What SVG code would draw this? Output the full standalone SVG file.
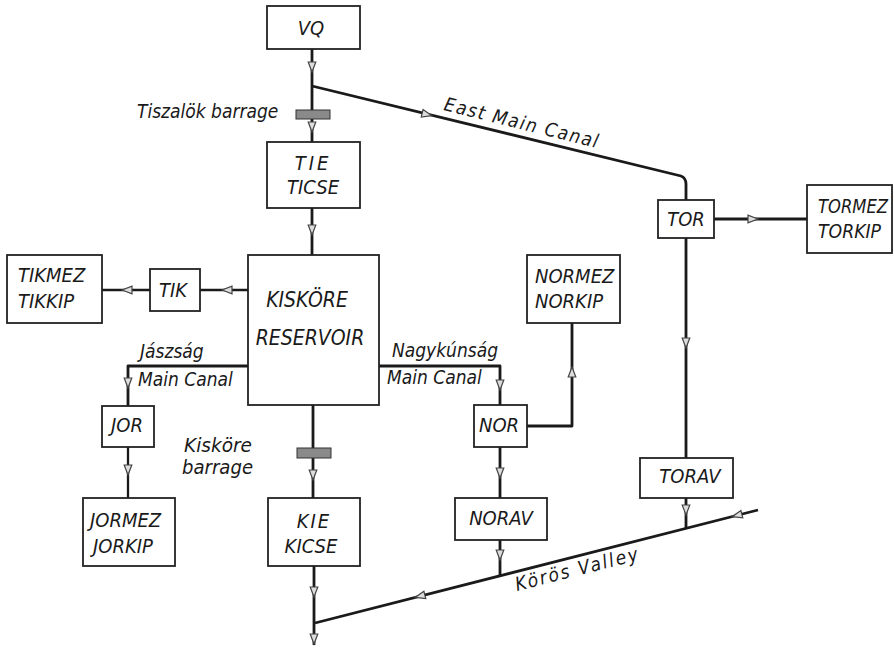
<svg xmlns="http://www.w3.org/2000/svg" xmlns:xlink="http://www.w3.org/1999/xlink" width="894" height="649" viewBox="0 0 894 649">
<style>
.box{fill:#fff;stroke:#222;stroke-width:1.8}
.t{font-family:'DejaVu Sans Condensed','DejaVu Sans','Liberation Sans',sans-serif;font-stretch:condensed;font-style:italic;font-size:20px;fill:#1a1a1a}
.lb{font-size:19px}
.big{font-size:21px}
.ln{fill:none;stroke:#1a1a1a;stroke-width:2.8;stroke-linejoin:round}
.thin{stroke-width:2.3}
.ah{fill:#ddd;stroke:#444;stroke-width:1.2}
.bar{fill:#8a8a8a;stroke:#333;stroke-width:1}
</style>
<defs>
<path id="a" class="ah" d="M5,0 L-5,-3.8 L-5,3.8 Z"/>
</defs>
<rect width="894" height="649" fill="#fff"/>

<g id="connectors">
<path class="ln" d="M312,49 V142"/>
<path class="ln" d="M312,86 L681,176 Q686,178 686,184 V200"/>
<path class="ln" d="M686,238 V458"/>
<path class="ln" d="M686,498 V528"/>
<path class="ln" d="M714,219 H807"/>
<path class="ln" d="M758,510 L315,623"/>
<path class="ln" d="M312,208 V255"/>
<path class="ln" d="M313,405 V498"/>
<path class="ln" d="M314,566 V645"/>
<path class="ln thin" d="M248,290 H200"/>
<path class="ln thin" d="M150,290 H102"/>
<path class="ln" d="M248,366 H128 V406"/>
<path class="ln thin" d="M128,447 V498"/>
<path class="ln" d="M379,366 H500 V405"/>
<path class="ln" d="M500,447 V498"/>
<path class="ln" d="M500,540 V576"/>
<path class="ln" d="M527,426 H572 V323"/>
<use xlink:href="#a" transform="translate(312,67) rotate(90)"/>
<use xlink:href="#a" transform="translate(312,127) rotate(90)"/>
<use xlink:href="#a" transform="translate(427,114.5) rotate(13.9)"/>
<use xlink:href="#a" transform="translate(686,343) rotate(90)"/>
<use xlink:href="#a" transform="translate(686,510) rotate(90)"/>
<use xlink:href="#a" transform="translate(753,219)"/>
<use xlink:href="#a" transform="translate(312,230) rotate(90)"/>
<use xlink:href="#a" transform="translate(227,290) rotate(180)"/>
<use xlink:href="#a" transform="translate(127,290) rotate(180)"/>
<use xlink:href="#a" transform="translate(128,383) rotate(90)"/>
<use xlink:href="#a" transform="translate(128,470) rotate(90)"/>
<use xlink:href="#a" transform="translate(313,475) rotate(90)"/>
<use xlink:href="#a" transform="translate(314,592) rotate(90)"/>
<use xlink:href="#a" transform="translate(314,639) rotate(90)"/>
<use xlink:href="#a" transform="translate(500,385) rotate(90)"/>
<use xlink:href="#a" transform="translate(500,473) rotate(90)"/>
<use xlink:href="#a" transform="translate(500,555) rotate(90)"/>
<use xlink:href="#a" transform="translate(572,372) rotate(-90)"/>
<use xlink:href="#a" transform="translate(420,596.2) rotate(165.7)"/>
<use xlink:href="#a" transform="translate(737,515.4) rotate(165.7)"/>
<rect class="bar" x="296" y="110" width="34" height="9"/>
<rect class="bar" x="297" y="448" width="34" height="10"/>
</g>

<g id="labels">
<text class="t lb" x="137" y="118">Tiszalök barrage</text>
<text class="t lb" x="443" y="110" transform="rotate(13.9 443 110)" textLength="158" lengthAdjust="spacing">East Main Canal</text>
<text class="t lb" x="517" y="591" transform="rotate(-14.3 517 591)" textLength="126" lengthAdjust="spacing">Körös Valley</text>
<text class="t lb" x="140" y="358">Jászság</text>
<text class="t lb" x="138" y="386">Main Canal</text>
<text class="t lb" x="392" y="357">Nagykúnság</text>
<text class="t lb" x="387" y="384">Main Canal</text>
<text class="t lb" x="184" y="452" textLength="68" lengthAdjust="spacingAndGlyphs">Kisköre</text>
<text class="t lb" x="182" y="474" textLength="71" lengthAdjust="spacingAndGlyphs">barrage</text>
</g>

<g id="VQ"><rect class="box" x="267" y="6" width="93" height="43"/><text class="t" x="311" y="35" text-anchor="middle">VQ</text></g>
<g id="TIE"><rect class="box" x="267" y="142" width="93" height="66"/><text class="t" x="313" y="170" text-anchor="middle" letter-spacing="3">TIE</text><text class="t" x="313" y="194" text-anchor="middle">TICSE</text></g>
<g id="KISKORE"><rect class="box" x="248" y="255" width="131" height="150"/><text class="t big" x="307" y="307" text-anchor="middle">KISKÖRE</text><text class="t big" x="310" y="345" text-anchor="middle">RESERVOIR</text></g>
<g id="TIK"><rect class="box" x="150" y="269" width="50" height="42"/><text class="t" x="173" y="297" text-anchor="middle">TIK</text></g>
<g id="TIKMEZ"><rect class="box" x="7" y="255" width="95" height="68"/><text class="t" x="18" y="282">TIKMEZ</text><text class="t" x="18" y="308">TIKKIP</text></g>
<g id="JOR"><rect class="box" x="102" y="406" width="52" height="41"/><text class="t" x="127" y="432" text-anchor="middle">JOR</text></g>
<g id="JORMEZ"><rect class="box" x="83" y="498" width="92" height="68"/><text class="t" x="90" y="527">JORMEZ</text><text class="t" x="93" y="553">JORKIP</text></g>
<g id="KIE"><rect class="box" x="268" y="498" width="92" height="68"/><text class="t" x="314" y="528" text-anchor="middle" letter-spacing="2">KIE</text><text class="t" x="311" y="553" text-anchor="middle">KICSE</text></g>
<g id="NOR"><rect class="box" x="474" y="405" width="53" height="42"/><text class="t" x="499" y="432" text-anchor="middle">NOR</text></g>
<g id="NORAV"><rect class="box" x="455" y="498" width="92" height="42"/><text class="t" x="501" y="525" text-anchor="middle">NORAV</text></g>
<g id="NORMEZ"><rect class="box" x="527" y="255" width="93" height="68"/><text class="t" x="535" y="283">NORMEZ</text><text class="t" x="535" y="308">NORKIP</text></g>
<g id="TOR"><rect class="box" x="658" y="200" width="56" height="38"/><text class="t" x="686" y="226" text-anchor="middle">TOR</text></g>
<g id="TORMEZ"><rect class="box" x="807" y="185" width="85" height="68"/><text class="t" x="818" y="213" textLength="70" lengthAdjust="spacingAndGlyphs">TORMEZ</text><text class="t" x="818" y="238" textLength="63" lengthAdjust="spacingAndGlyphs">TORKIP</text></g>
<g id="TORAV"><rect class="box" x="640" y="458" width="93" height="40"/><text class="t" x="690" y="483" text-anchor="middle">TORAV</text></g>
</svg>
